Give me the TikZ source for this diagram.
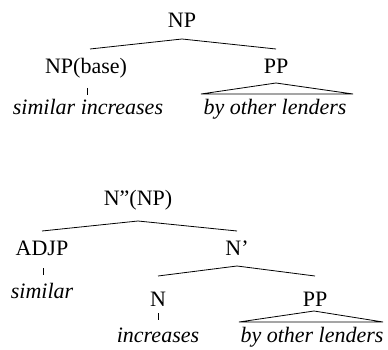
\documentclass[tikz,border=0pt]{standalone}
\usepackage{fontspec}
\setmainfont{Liberation Serif}
\begin{document}
\begin{tikzpicture}[x=1pt,y=-1pt,
  lbl/.style={anchor=base,inner sep=0pt,font=\fontsize{22}{26}\selectfont},
  word/.style={lbl,font=\fontsize{22}{26}\selectfont\itshape},
  branch/.style={line width=0.8pt},
  stem/.style={line width=0.8pt}]
\useasboundingbox (0,0) rectangle (388,350);

% upper tree: NP -> NP(base) PP
\node[lbl]  (np)    at (182,28)  {NP};
\node[lbl]  (npb)   at (86,74)   {NP(base)};
\node[lbl]  (pp1)   at (276,74)  {PP};
\node[word] (w1)    at (88,115)  {similar increases};
\node[word] (w2)    at (275,114) {by other lenders};

\coordinate (a1) at (182,39);
\coordinate (l1) at (90,49);
\coordinate (r1) at (276,49);
\draw[branch] (l1) -- (a1) -- (r1);

\coordinate (s1t) at (87,88);
\coordinate (s1b) at (87,95);
\draw[stem] (s1t) -- (s1b);

\coordinate (t1a) at (276,83);
\coordinate (t1l) at (201,94);
\coordinate (t1r) at (353,94);
\draw[branch] (t1l) -- (t1a) -- (t1r) -- cycle;

% lower tree: N''(NP) -> ADJP N' ; N' -> N PP
\node[lbl]  (nn)    at (138,205) {N''(NP)};
\node[lbl]  (adjp)  at (42,255)  {ADJP};
\node[lbl]  (nbar)  at (237,255) {N'};
\node[word] (w3)    at (42,298)  {similar};
\node[lbl]  (n)     at (158,306) {N};
\node[lbl]  (pp2)   at (315,306) {PP};
\node[word] (w4)    at (158,342) {increases};
\node[word] (w5)    at (312,342) {by other lenders};

\coordinate (a2) at (138,221);
\coordinate (l2) at (42,231);
\coordinate (r2) at (237,231);
\draw[branch] (l2) -- (a2) -- (r2);

\coordinate (s2t) at (43,268);
\coordinate (s2b) at (43,275);
\draw[stem] (s2t) -- (s2b);

\coordinate (a3) at (237,266);
\coordinate (l3) at (158,276);
\coordinate (r3) at (315,276);
\draw[branch] (l3) -- (a3) -- (r3);

\coordinate (s3t) at (158,313);
\coordinate (s3b) at (158,320);
\draw[stem] (s3t) -- (s3b);

\coordinate (t2a) at (314,311);
\coordinate (t2l) at (239,322);
\coordinate (t2r) at (383,322);
\draw[branch] (t2l) -- (t2a) -- (t2r) -- cycle;
\end{tikzpicture}
\end{document}
